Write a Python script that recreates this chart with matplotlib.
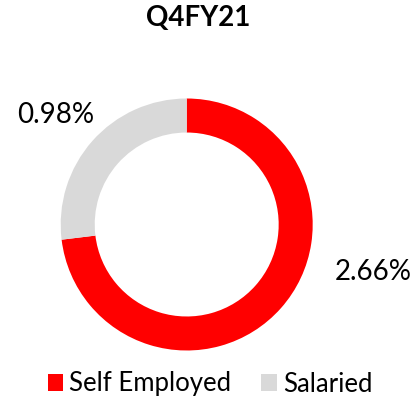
import matplotlib
matplotlib.use("Agg")
import matplotlib.pyplot as plt

categories = ["Self Employed", "Salaried"]
values = [2.66, 0.98]
value_labels = ["2.66%", "0.98%"]
colors = ["#FF0000", "#D9D9D9"]
title = "Q4FY21"

plt.rcParams['font.family'] = ['Lato', 'DejaVu Sans']

fig = plt.figure(figsize=(4.17, 4.01), dpi=100)
W, H = 417, 401
cx, cy, R = 186.7, 224.5, 126
ax = fig.add_axes([(cx - R) / W, (H - cy - R) / H, 2 * R / W, 2 * R / H])
wedges, _ = ax.pie(values, colors=colors, startangle=90, counterclock=False,
                   radius=1, wedgeprops=dict(width=0.27, linewidth=0))
ax.set_xlim(-1, 1)
ax.set_ylim(-1, 1)
ax.set_aspect('equal')
ax.axis('off')

# data labels
label_pos = [(1.48, -0.38), (-1.04, 0.87)]
for (x, y), t in zip(label_pos, value_labels):
    ax.text(x, y, t, ha='center', va='center', fontsize=20, color='black', clip_on=False)

fig.text(198 / W, 1 - 18 / H, title, ha='center', va='center', fontsize=20, fontweight='bold')

fig.legend(wedges, categories, loc='center', bbox_to_anchor=(210 / W, 1 - 384 / H),
           ncol=2, frameon=False, fontsize=18.5, handlelength=0.6, handleheight=0.6,
           handletextpad=0.25, columnspacing=1.15, borderpad=0, borderaxespad=0)

fig.savefig("out.png", dpi=100)
